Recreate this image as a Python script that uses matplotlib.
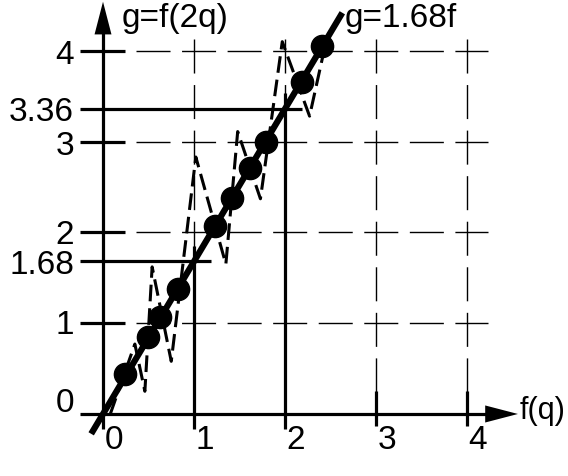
import matplotlib.pyplot as plt
import numpy as np

plt.rcParams['font.family'] = ['Liberation Sans', 'DejaVu Sans']
plt.rcParams['lines.scale_dashes'] = False

# Data
slope = 1.68
f_pts = [0.24, 0.495, 0.63, 0.82, 1.23, 1.42, 1.62, 1.79, 2.19, 2.41]
g_pts = [0.44, 0.85, 1.07, 1.38, 2.07, 2.38, 2.71, 2.99, 3.66, 4.05]

# zigzag dashed curve g=f(2q)
zig_f = [0.08, 0.35, 0.46, 0.54, 0.75, 1.02, 1.35, 1.48, 1.73, 1.97, 2.27, 2.42]
zig_g = [0.00, 0.77, 0.25, 1.62, 0.58, 2.83, 1.65, 3.11, 2.37, 4.10, 3.28, 3.96]

grid_vals = [1, 2, 3, 4]
x_ticks = [0, 1, 2, 3, 4]
y_ticks = [0, 1, 2, 3, 4]
marked = [1.68, 3.36]

fig = plt.figure(figsize=(5.68, 4.77), dpi=100)
ax = fig.add_axes([0, 0, 1, 1])
ax.set_xlim(-1.132, 5.11)
ax.set_ylim(-0.683, 4.57)
ax.axis('off')

# dashed grid
for v in grid_vals:
    ax.plot([0.363, 4.23], [v, v], color='black', lw=1.0, dashes=(24.5, 8.3))
    ax.plot([v, v], [4.13, 0], color='black', lw=1.0, dashes=(24.5, 8.3))

# axes
ax.plot([-0.25, 4.3], [0, 0], color='black', lw=2.3, solid_capstyle='butt')
ax.plot([0, 0], [-0.17, 4.3], color='black', lw=2.3, solid_capstyle='butt')
ax.fill([4.2, 4.56, 4.2], [-0.094, 0, 0.094], color='black', lw=0)
ax.fill([-0.093, 0, 0.093], [4.18, 4.54, 4.18], color='black', lw=0)

# tick marks
for v in y_ticks[1:]:
    ax.plot([-0.25, 0.24], [v, v], color='black', lw=2.3, solid_capstyle='butt')
for v in [3, 4]:
    ax.plot([v, v], [-0.13, 0.25], color='black', lw=2.3, solid_capstyle='butt')

# guide lines for 1.68 and 3.36
for fx, gv in zip([1, 2], marked):
    ax.plot([-0.25, fx + 0.19], [gv, gv], color='black', lw=2.3, solid_capstyle='butt')
    ax.plot([fx, fx], [-0.17, gv + 0.17], color='black', lw=2.3, solid_capstyle='butt')

# zigzag dashed curve
ax.plot(zig_f, zig_g, color='black', lw=2.2, dashes=(12, 5))

# main line g = 1.68 f
fl = np.array([-0.13, 2.63])
ax.plot(fl, slope * fl, color='black', lw=4.5, solid_capstyle='butt')

# points
ax.plot(f_pts, g_pts, 'o', color='black', markersize=16)

# labels
label_y = {0: 0.13, 1: 0.98, 2: 1.98, 3: 2.96, 4: 3.96}
for v in y_ticks:
    ax.text(-0.32, label_y[v], str(v), fontsize=24, ha='right', va='center')
for v in marked:
    ax.text(-0.32, v - 0.03, f'{v:.2f}', fontsize=24, ha='right', va='center')
for v in x_ticks:
    ax.text(v + 0.12, -0.28, str(v), fontsize=24, ha='center', va='center')

ax.text(4.58, 0.04, 'f(q)', fontsize=22, ha='left', va='center')
ax.text(0.2, 4.37, 'g=f(2q)', fontsize=24, ha='left', va='center')
ax.text(2.65, 4.37, 'g=1.68f', fontsize=24, ha='left', va='center')

plt.savefig('out.png', dpi=100)
